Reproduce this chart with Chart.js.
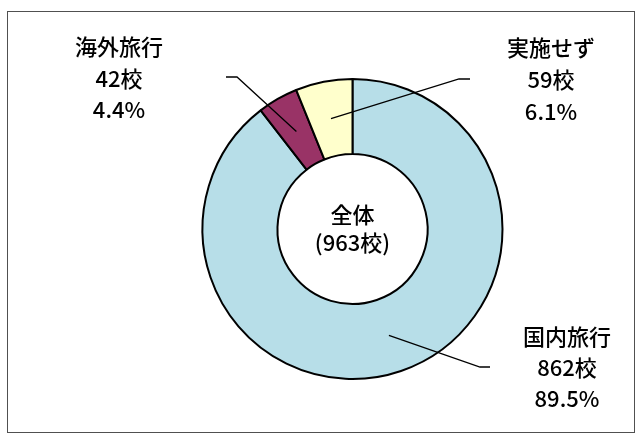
<!DOCTYPE html>
<html>
<head>
<meta charset="utf-8">
<script src="https://cdn.jsdelivr.net/npm/chart.js@4.4.1/dist/chart.umd.min.js"></script>
<style>
  html, body { margin: 0; padding: 0; background: #ffffff; }
  #wrap { width: 642px; height: 435px; position: relative; }
</style>
</head>
<body>
<div id="wrap"><canvas id="travelChart"></canvas></div>
<script>
// data
const categories = ['国内旅行', '海外旅行', '実施せず'];
const schoolCounts = [862, 42, 59];
const percentLabels = ['89.5%', '4.4%', '6.1%'];
const centerLines = ['全体', '(963校)'];

const sliceColors = ['#b7dee8', '#993366', '#ffffcc'];

// where each callout sits: text centre x, three line y's, elbow and end of the leader
const calloutLayout = [
  { x: 567, ys: [337, 368, 399], elbow: [480, 367], end: [490, 367] },
  { x: 119, ys: [47, 79, 110], elbow: [237, 77], end: [226, 77] },
  { x: 551, ys: [48, 80, 112], elbow: [459, 79], end: [470, 79] },
];

const fontFamily = '"Noto Sans CJK JP", "Noto Sans", sans-serif';

const frameAndLabels = {
  id: 'frameAndLabels',
  beforeDraw(chart) {
    const ctx = chart.ctx;
    ctx.save();
    ctx.strokeStyle = '#505050';
    ctx.lineWidth = 1;
    ctx.strokeRect(7.5, 11.5, 627, 421);
    ctx.restore();
  },
  afterDraw(chart) {
    const ctx = chart.ctx;
    const arcs = chart.getDatasetMeta(0).data;
    ctx.save();
    ctx.fillStyle = '#000000';
    ctx.strokeStyle = '#000000';
    ctx.font = '500 22px ' + fontFamily;
    ctx.textAlign = 'center';
    ctx.textBaseline = 'middle';

    categories.forEach((name, i) => {
      const lay = calloutLayout[i];
      const p = arcs[i].getCenterPoint();
      ctx.lineWidth = 1.3;
      ctx.beginPath();
      ctx.moveTo(p.x, p.y);
      ctx.lineTo(lay.elbow[0], lay.elbow[1]);
      ctx.lineTo(lay.end[0], lay.end[1]);
      ctx.stroke();

      const lines = [name, schoolCounts[i] + '校', percentLabels[i]];
      lines.forEach((t, k) => ctx.fillText(t, lay.x, lay.ys[k]));
    });

    // centre text
    const c = arcs[0];
    ctx.fillText(centerLines[0], c.x, c.y - 14);
    ctx.fillText(centerLines[1], c.x, c.y + 14);
    ctx.restore();
  }
};

new Chart(document.getElementById('travelChart'), {
  type: 'doughnut',
  data: {
    labels: categories,
    datasets: [{
      data: schoolCounts,
      backgroundColor: sliceColors,
      borderColor: '#000000',
      borderWidth: 2,
      hoverOffset: 0,
    }]
  },
  options: {
    responsive: true,
    maintainAspectRatio: false,
    animation: false,
    cutout: '50%',
    rotation: 0,
    layout: { padding: { top: 78, bottom: 55, left: 100, right: 37 } },
    plugins: {
      legend: { display: false },
      tooltip: { enabled: false },
    },
    events: [],
  },
  plugins: [frameAndLabels],
});
</script>
</body>
</html>
